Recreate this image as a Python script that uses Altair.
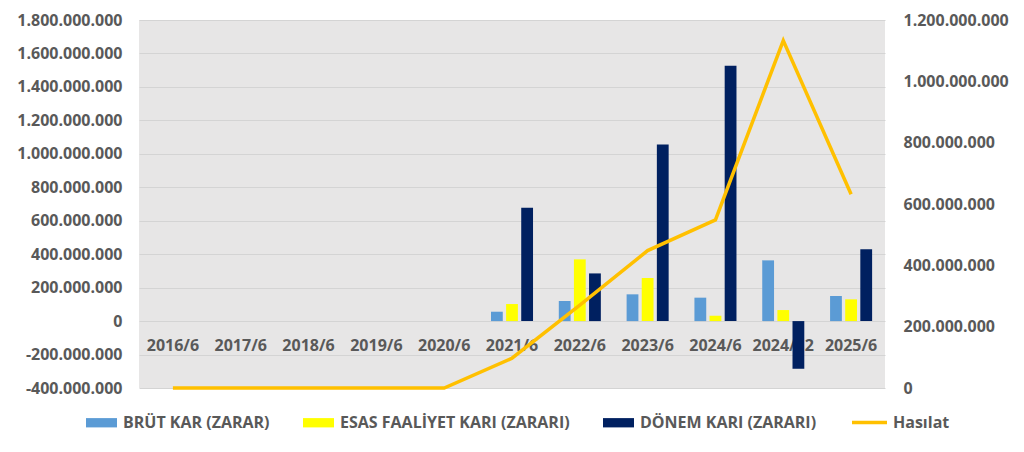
import altair as alt
import pandas as pd

categories = ["2016/6", "2017/6", "2018/6", "2019/6", "2020/6", "2021/6",
              "2022/6", "2023/6", "2024/6", "2024/12", "2025/6"]
series_names = ["BRÜT KAR (ZARAR)", "ESAS FAALİYET KARI (ZARARI)", "DÖNEM KARI (ZARARI)"]
brut = [0, 0, 0, 0, 0, 56e6, 120e6, 160e6, 140e6, 363e6, 150e6]
esas = [0, 0, 0, 0, 0, 102e6, 369e6, 258e6, 32e6, 66e6, 130e6]
donem = [0, 0, 0, 0, 0, 678e6, 285e6, 1055e6, 1527e6, -285e6, 429e6]
hasilat = [0, 0, 0, 0, 0, 97e6, 270e6, 448e6, 548e6, 1133e6, 632e6]
bar_colors = ["#5B9BD5", "#FFFF00", "#002060"]
line_color = "#FFC000"

rows = []
for name, vals in zip(series_names, [brut, esas, donem]):
    for c, v in zip(categories, vals):
        rows.append({"cat": c, "series": name, "value": v})
bars_df = pd.DataFrame(rows)
line_df = pd.DataFrame({"cat": categories, "rev": hasilat, "s": ["Hasılat"] * len(categories)})

FONT = "Open Sans"
GRAY = "#595959"
W = "bold"

x_enc = alt.X("cat:N", sort=categories, title=None,
              scale=alt.Scale(paddingInner=0.38, paddingOuter=0.19),
              axis=alt.Axis(orient="bottom", offset=-67, domain=False, ticks=False,
                            tickSize=0, labelPadding=16, labelAngle=0,
                            labelFont=FONT, labelFontSize=16, labelFontWeight=W,
                            labelColor=GRAY, grid=False))

bars = alt.Chart(bars_df).mark_bar().encode(
    x=x_enc,
    xOffset=alt.XOffset("series:N", sort=series_names,
                        scale=alt.Scale(paddingInner=0.22, paddingOuter=0)),
    y=alt.Y("value:Q", title=None,
            scale=alt.Scale(domain=[-400e6, 1800e6], nice=False, zero=False),
            axis=alt.Axis(values=[-400e6 + 200e6 * i for i in range(12)],
                          format=",.0f", domain=False, ticks=False, labelPadding=17,
                          labelFont=FONT, labelFontSize=16, labelFontWeight=W,
                          labelColor=GRAY, grid=True, gridColor="#D4D4D4",
                          gridWidth=1)),
    color=alt.Color("series:N", sort=series_names,
                    scale=alt.Scale(domain=series_names, range=bar_colors),
                    legend=alt.Legend(orient="none", legendX=-53, legendY=387,
                                      direction="horizontal", columns=3, title=None,
                                      symbolType="M-1,-0.3H1V0.3H-1Z", symbolSize=961,
                                      symbolStrokeWidth=0, symbolOpacity=1,
                                      labelFont=FONT, labelFontSize=16,
                                      labelFontWeight=W, labelColor=GRAY,
                                      labelLimit=400,
                                      columnPadding=33, labelOffset=6)),
)

line = alt.Chart(line_df).mark_line(strokeWidth=3.5).encode(
    x=alt.X("cat:N", sort=categories),
    y=alt.Y("rev:Q", title=None,
            scale=alt.Scale(domain=[0, 1200e6], nice=False),
            axis=alt.Axis(orient="right", values=[200e6 * i for i in range(7)],
                          format=",.0f", domain=False, ticks=False, labelPadding=18,
                          labelFont=FONT, labelFontSize=16, labelFontWeight=W,
                          labelColor=GRAY, grid=False)),
    stroke=alt.Stroke("s:N", scale=alt.Scale(domain=["Hasılat"], range=[line_color]),
                      legend=alt.Legend(orient="none", legendX=711, legendY=383,
                                        title=None, symbolType="stroke",
                                        symbolSize=1225, symbolStrokeWidth=3.5,
                                        labelFont=FONT, labelFontSize=16,
                                        labelFontWeight=W, labelColor=GRAY,
                                        labelLimit=400, labelOffset=4)),
)

chart = alt.layer(bars, line).resolve_scale(y="independent").properties(
    width=746, height=368,
    autosize=alt.AutoSizeParams(type="none"),
    padding={"left": 131, "top": 12, "right": 130, "bottom": 60},
).configure(
    locale={"number": {"decimal": ",", "thousands": ".", "grouping": [3],
                       "currency": ["", ""], "minus": "-"}}
).configure_view(fill="#E7E6E6", stroke=None)

chart.save("out.html", embed_options={"renderer": "svg", "actions": False})
